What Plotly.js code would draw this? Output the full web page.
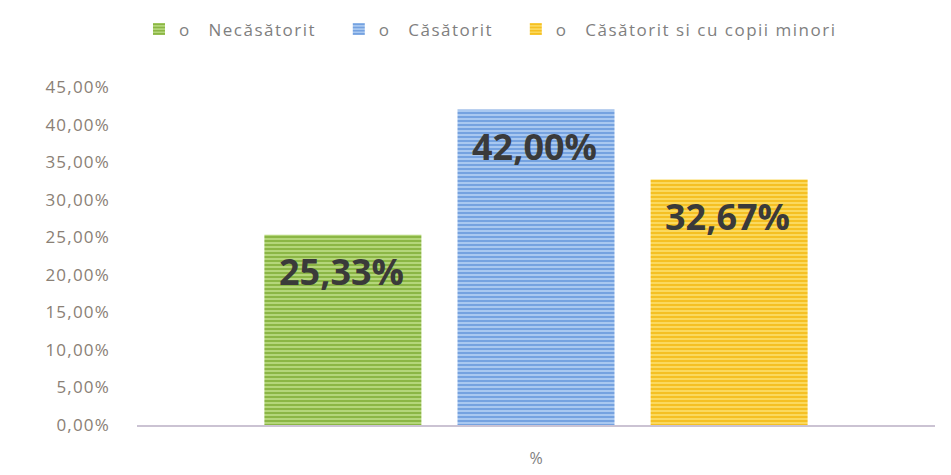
<!DOCTYPE html>
<html><head><meta charset="utf-8">
<script src="https://cdn.plot.ly/plotly-3.0.1.min.js"></script>
<style>html,body{margin:0;padding:0;background:#fff}#c{width:951px;height:475px}
.legendtext{letter-spacing:1.5px}
.ytick text{letter-spacing:1.2px}
</style>
</head><body><div id="c"></div>
<script>
const categories = ['%'];
const seriesNames = ['o\u00a0\u00a0\u00a0Necăsătorit\u00a0\u00a0\u00a0', 'o\u00a0\u00a0\u00a0Căsătorit\u00a0\u00a0\u00a0', 'o\u00a0\u00a0\u00a0Căsătorit si cu copii minori'];
const seriesValues = [[0.2533], [0.42], [0.3267]];
const valueLabels = ['25,33%', '42,00%', '32,67%'];
const bgColors = ['#b4d67a', '#a9c8f0', '#fbd95e'];
const fgColors = ['#86b33f', '#6f9edf', '#f5bd1c'];

const traces = seriesValues.map((v, i) => ({
  type: 'bar', x: categories, y: v, name: seriesNames[i],
  marker: {color: bgColors[i], line: {width: 0},
    pattern: {shape: '-', fgcolor: fgColors[i], bgcolor: bgColors[i], size: 4, solidity: 0.45}},
  hoverinfo: 'skip'
}));

const groupSpacing = 193;
const annotations = seriesValues.map((v, i) => ({
  x: categories[0], y: v[0], xref: 'x', yref: 'y',
  xshift: (i - 1) * groupSpacing - 2, yshift: -37,
  text: valueLabels[i], showarrow: false, yanchor: 'middle',
  font: {family: '"Open Sans", sans-serif', size: 36, color: '#3a3a3a', weight: 'bold'}
}));

const layout = {
  width: 951, height: 475,
  margin: {l: 137, r: 16, t: 82, b: 50},
  paper_bgcolor: '#fff', plot_bgcolor: '#fff',
  separators: ',.',
  barmode: 'group', bargap: 0.274, bargroupgap: 0.187,
  font: {family: '"Open Sans", sans-serif', color: '#8a8580'},
  showlegend: true,
  legend: {orientation: 'h', x: 0.0025, xanchor: 'left', y: 1.17, yanchor: 'middle',
    font: {size: 17, color: '#7f7f7f'}, itemwidth: 30, traceorder: 'normal'},
  xaxis: {type: 'category', showline: true, linecolor: '#cbc3d3', linewidth: 2,
    ticks: '', ticklabelstandoff: 18, tickfont: {size: 16, color: '#7f7f7f'}, showgrid: false, fixedrange: true},
  yaxis: {range: [0, 0.45], dtick: 0.05, tickformat: '.2%', showgrid: false, zeroline: false,
    showline: false, ticks: '', ticklabelstandoff: 26, tickfont: {size: 17, color: '#8a8075'}},
  annotations: annotations
};
Plotly.newPlot('c', traces, layout, {staticPlot: true});
</script></body></html>
